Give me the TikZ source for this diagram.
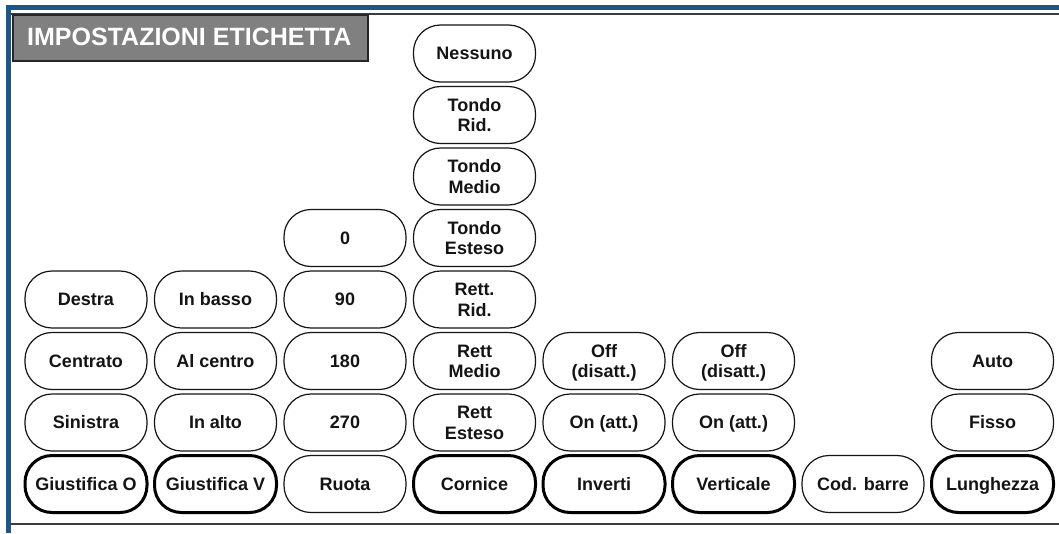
\documentclass[tikz,border=0pt]{standalone}
\usepackage{fontspec}
\setmainfont{Liberation Sans}
\definecolor{frameblue}{RGB}{30,86,134}
\definecolor{rulegray}{RGB}{60,60,60}
\definecolor{titlegray}{RGB}{128,128,128}
\definecolor{inkdark}{RGB}{20,20,20}
\begin{document}
\begin{tikzpicture}[x=1pt,y=-1pt,
  opt/.style={draw=inkdark, line width=1.2pt, rectangle, rounded corners=27pt,
    minimum width=122pt, minimum height=57pt, inner sep=0pt, align=center,
    text height=12.9pt, text depth=0pt,
    text=inkdark, font=\bfseries\fontsize{18}{20.5}\selectfont},
  two/.style={text height=33.4pt, text depth=0pt},
  head/.style={opt, draw=black, line width=3pt},
  title/.style={draw=black!85, line width=1.5pt, fill=titlegray, text=white,
    minimum width=355pt, minimum height=46pt, inner sep=0pt}]
\useasboundingbox (0,0) rectangle (1059,533);
% window frame
\fill[white] (0,0) rectangle (1059,533);
\fill[frameblue] (6,5) rectangle (1059,10);
\fill[frameblue] (6,5) rectangle (11,533);
\draw[rulegray, line width=2pt] (11,14) -- (1059,14);
\draw[rulegray, line width=2pt] (11,524) -- (1059,524);
% title tab
\node[title, anchor=north west] (ttl) at (12,14) {};
\node[anchor=base west, inner sep=0pt, text=white,
  font=\bfseries\fontsize{25}{28}\selectfont] (ttltext) at (27,45) {IMPOSTAZIONI ETICHETTA};
% column 1: Giustifica O
\node[head] (gO)  at (86,484)   {Giustifica O};
\node[opt]  (gO1) at (86,422.5) {Sinistra};
\node[opt]  (gO2) at (86,361)   {Centrato};
\node[opt]  (gO3) at (86,299.5) {Destra};
% column 2: Giustifica V
\node[head] (gV)  at (215.5,484)   {Giustifica V};
\node[opt]  (gV1) at (215.5,422.5) {In alto};
\node[opt]  (gV2) at (215.5,361)   {Al centro};
\node[opt]  (gV3) at (215.5,299.5) {In basso};
% column 3: Ruota
\node[opt] (ru)  at (345,484)   {Ruota};
\node[opt] (ru1) at (345,422.5) {270};
\node[opt] (ru2) at (345,361)   {180};
\node[opt] (ru3) at (345,299.5) {90};
\node[opt] (ru4) at (345,238)   {0};
% column 4: Cornice
\node[head]    (co)  at (474.5,484)   {Cornice};
\node[opt,two] (co1) at (474.5,422.5) {Rett\\Esteso};
\node[opt,two] (co2) at (474.5,361)   {Rett\\Medio};
\node[opt,two] (co3) at (474.5,299.5) {Rett.\\Rid.};
\node[opt,two] (co4) at (474.5,238)   {Tondo\\Esteso};
\node[opt,two] (co5) at (474.5,176.5) {Tondo\\Medio};
\node[opt,two] (co6) at (474.5,115)   {Tondo\\Rid.};
\node[opt]     (co7) at (474.5,53.5)  {Nessuno};
% column 5: Inverti
\node[head]    (in)  at (604,484)   {Inverti};
\node[opt]     (in1) at (604,422.5) {On (att.)};
\node[opt,two] (in2) at (604,361)   {Off\\(disatt.)};
% column 6: Verticale
\node[head]    (ve)  at (733.5,484)   {Verticale};
\node[opt]     (ve1) at (733.5,422.5) {On (att.)};
\node[opt,two] (ve2) at (733.5,361)   {Off\\(disatt.)};
% column 7: Cod. barre
\node[opt] (cb) at (863,484) {Cod. barre};
% column 8: Lunghezza
\node[head] (lu)  at (992.5,484)   {Lunghezza};
\node[opt]  (lu1) at (992.5,422.5) {Fisso};
\node[opt]  (lu2) at (992.5,361)   {Auto};
\end{tikzpicture}
\end{document}
